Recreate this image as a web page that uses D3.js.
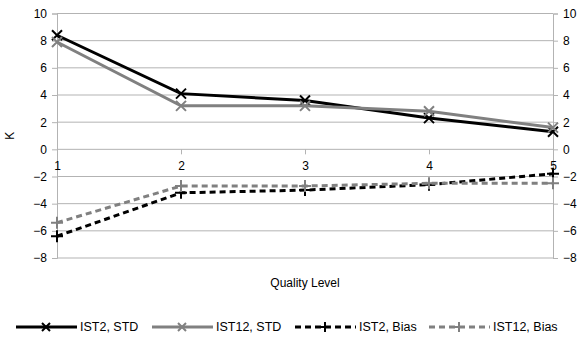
<!DOCTYPE html>
<html>
<head>
<meta charset="utf-8">
<script src="https://cdn.jsdelivr.net/npm/d3@7"></script>
<style>
  body { margin: 0; background: #fff; }
  text { font-family: "Liberation Sans", Arial, sans-serif; fill: #000; }
</style>
</head>
<body>
<div id="chart"></div>
<script>
/*chart data*/
var levels = [1, 2, 3, 4, 5];
var ist2Std = [8.4, 4.1, 3.6, 2.3, 1.3];
var ist12Std = [7.9, 3.2, 3.2, 2.8, 1.6];
var ist2Bias = [-6.4, -3.2, -3.0, -2.6, -1.8];
var ist12Bias = [-5.4, -2.7, -2.7, -2.5, -2.5];
var yTicks = [-8, -6, -4, -2, 0, 2, 4, 6, 8, 10];

var seriesList = [
  { name: "IST2, STD", values: ist2Std, color: "#000000", dash: null, marker: "x" },
  { name: "IST12, STD", values: ist12Std, color: "#808080", dash: null, marker: "x" },
  { name: "IST2, Bias", values: ist2Bias, color: "#000000", dash: "6,4", marker: "+" },
  { name: "IST12, Bias", values: ist12Bias, color: "#808080", dash: "6,4", marker: "+" }
];

/*svg dimensions*/
var svgWidth = 579, svgHeight = 337;
var margin = { top: 13.5, right: 26, bottom: 79, left: 57 };
var width = svgWidth - margin.left - margin.right;
var height = svgHeight - margin.top - margin.bottom;

var svg = d3.select("#chart").append("svg")
  .attr("width", svgWidth)
  .attr("height", svgHeight);

var g = svg.append("g")
  .attr("transform", `translate(${margin.left},${margin.top})`);

var xScale = d3.scaleLinear().domain([1, 5]).range([0, width]);
var yScale = d3.scaleLinear().domain([-8, 10]).range([height, 0]);

/*horizontal gridlines*/
g.selectAll(".grid")
  .data(yTicks)
  .enter().append("line")
  .attr("x1", 0).attr("x2", width)
  .attr("y1", d => yScale(d)).attr("y2", d => yScale(d))
  .attr("stroke", "#b3b3b3").attr("stroke-width", 1);

/*left and right axes*/
var leftAxis = d3.axisLeft(yScale).tickValues(yTicks).tickSize(5).tickPadding(5);
var rightAxis = d3.axisRight(yScale).tickValues(yTicks).tickSize(5).tickPadding(5);

function styleAxis(sel) {
  sel.select(".domain").attr("stroke", "#b3b3b3");
  sel.selectAll(".tick line").attr("stroke", "#b3b3b3");
  sel.selectAll("text").style("font-size", "12px").attr("fill", "#000");
}

g.append("g").call(leftAxis).call(styleAxis);
g.append("g").attr("transform", `translate(${width},0)`).call(rightAxis).call(styleAxis);

/*category axis at zero*/
var bottomAxis = d3.axisBottom(xScale).tickValues(levels).tickSize(5).tickPadding(7).tickFormat(d3.format("d"));
g.append("g")
  .attr("transform", `translate(0,${yScale(0)})`)
  .call(bottomAxis)
  .call(function (sel) {
    sel.select(".domain").remove();
    sel.selectAll(".tick line").attr("stroke", "#b3b3b3");
    sel.selectAll("text").style("font-size", "12px").attr("fill", "#000");
  });

/*axis titles*/
g.append("text")
  .attr("text-anchor", "middle")
  .attr("transform", `translate(${-43},${yScale(1)}) rotate(-90)`)
  .style("font-size", "12px")
  .text("K");

g.append("text")
  .attr("text-anchor", "middle")
  .attr("x", width / 2)
  .attr("y", height + 29)
  .style("font-size", "12px")
  .text("Quality Level");

/*lines and markers*/
var line = d3.line()
  .x((d, i) => xScale(levels[i]))
  .y(d => yScale(d));

function markerPath(type, size) {
  var s = size / 2;
  if (type === "x") return `M${-s},${-s}L${s},${s}M${-s},${s}L${s},${-s}`;
  return `M${-s},0L${s},0M0,${-s}L0,${s}`;
}

seriesList.forEach(function (s) {
  g.append("path")
    .datum(s.values)
    .attr("d", line)
    .attr("fill", "none")
    .attr("stroke", s.color)
    .attr("stroke-width", 3)
    .attr("stroke-dasharray", s.dash);

  g.selectAll(null)
    .data(s.values)
    .enter().append("path")
    .attr("transform", (d, i) => `translate(${xScale(levels[i])},${yScale(d)})`)
    .attr("d", markerPath(s.marker, s.marker === "x" ? 10 : 12))
    .attr("stroke", s.color)
    .attr("stroke-width", 2)
    .attr("fill", "none");
});

/*legend*/
var legendX = [16, 152, 295, 429];
var legend = svg.append("g").attr("transform", "translate(0,327)");
seriesList.forEach(function (s, i) {
  var item = legend.append("g").attr("transform", `translate(${legendX[i]},0)`);
  item.append("line")
    .attr("x1", 0).attr("x2", 61).attr("y1", 0).attr("y2", 0)
    .attr("stroke", s.color).attr("stroke-width", 3)
    .attr("stroke-dasharray", s.dash);
  item.append("path")
    .attr("transform", "translate(30,0)")
    .attr("d", markerPath(s.marker, s.marker === "x" ? 8 : 10))
    .attr("stroke", s.color).attr("stroke-width", 2);
  item.append("text")
    .attr("x", 64).attr("y", 0).attr("dy", "0.35em")
    .style("font-size", "12.5px")
    .text(s.name);
});
</script>
</body>
</html>
